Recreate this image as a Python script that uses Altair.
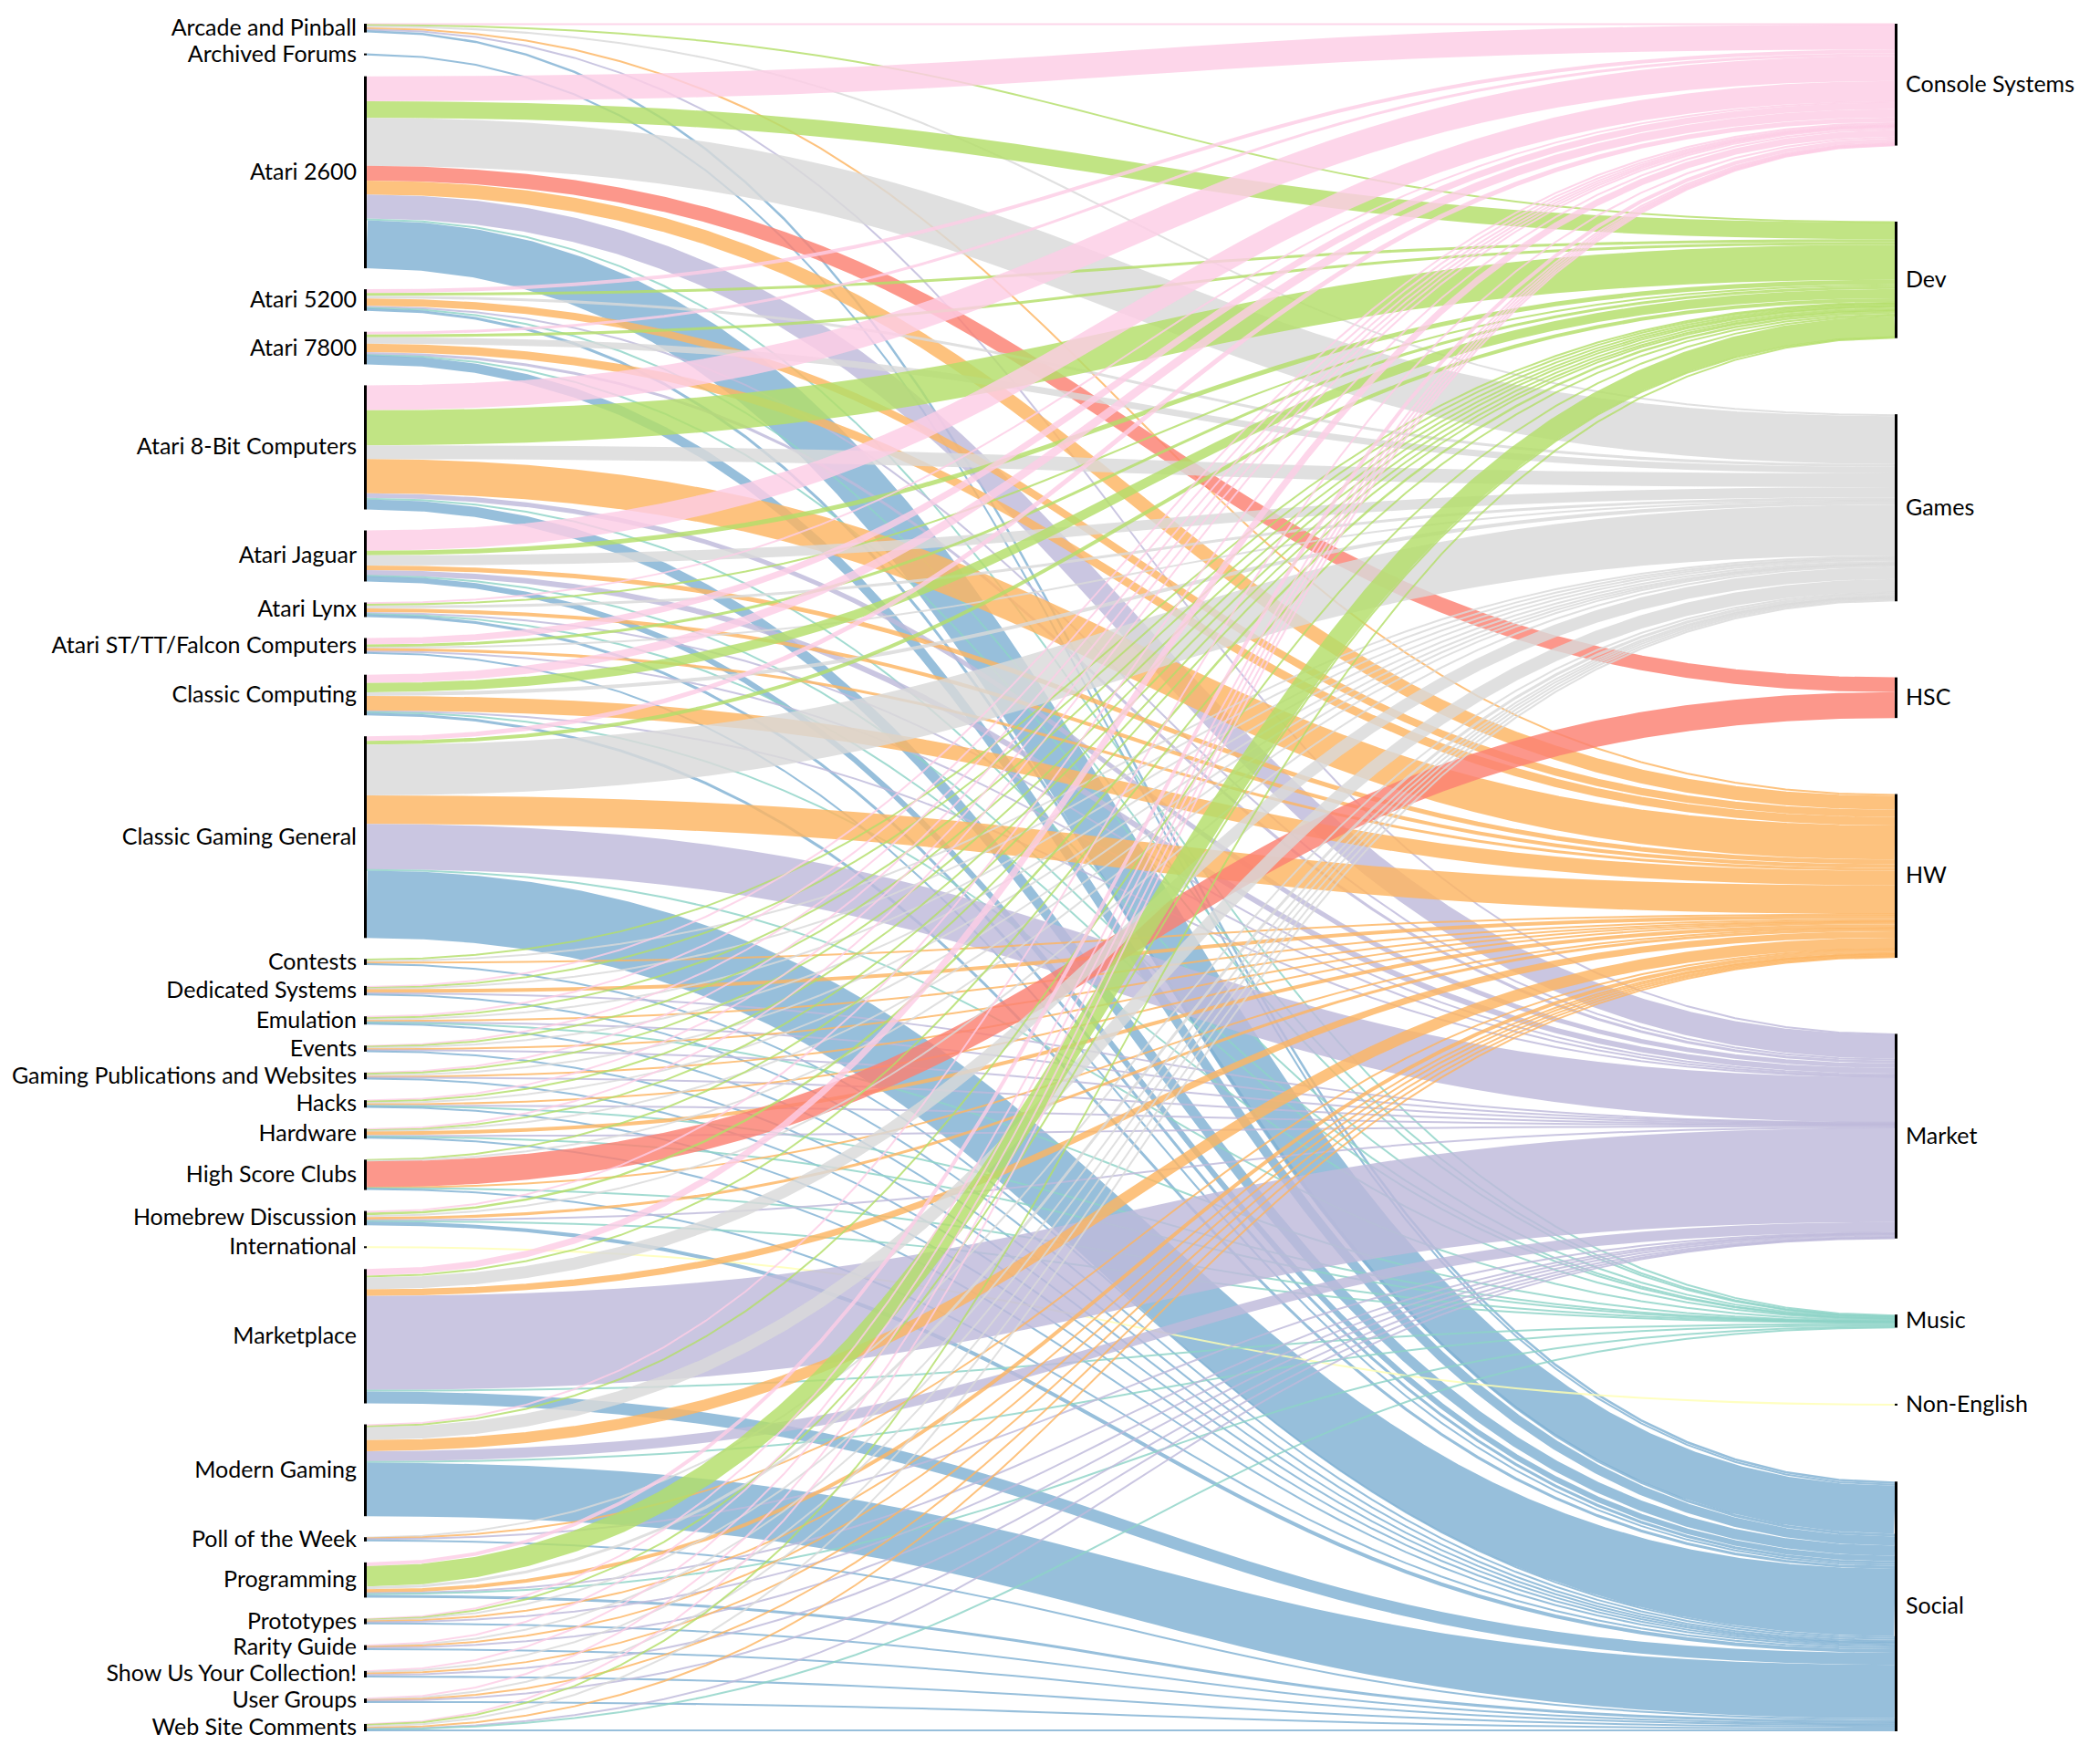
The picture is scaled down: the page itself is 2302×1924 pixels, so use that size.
import altair as alt
import numpy as np
import pandas as pd

sources = [
    "Arcade and Pinball", "Archived Forums", "Atari 2600", "Atari 5200", "Atari 7800",
    "Atari 8-Bit Computers", "Atari Jaguar", "Atari Lynx", "Atari ST/TT/Falcon Computers",
    "Classic Computing", "Classic Gaming General", "Contests", "Dedicated Systems",
    "Emulation", "Events", "Gaming Publications and Websites", "Hacks", "Hardware",
    "High Score Clubs", "Homebrew Discussion", "International", "Marketplace",
    "Modern Gaming", "Poll of the Week", "Programming", "Prototypes", "Rarity Guide",
    "Show Us Your Collection!", "User Groups", "Web Site Comments",
]
targets = ["Console Systems", "Dev", "Games", "HSC", "HW", "Market", "Music", "Non-English", "Social"]

# flow values from each source (same order as `sources`) into each target
console_systems = [1, 0, 27, 4, 3, 27, 22, 1.5, 7, 9, 5, 0, 2, 1, 1, 0.6, 0.6, 1.5, 0, 2, 0, 7, 2, 0, 4, 1, 1, 0.6, 0.6, 0.6]
dev             = [1, 0, 18, 3, 3, 38, 5, 2, 3, 10, 4, 1.5, 0.6, 2, 0.6, 1.5, 2, 1, 1, 2.5, 0, 2, 1, 0, 22, 0.6, 0, 0, 0, 1]
games           = [2, 0, 52, 3, 7, 15, 11, 3, 1, 4, 55, 2, 1, 1, 2, 2, 1, 0.6, 1, 2, 0, 13, 14, 1, 3, 1, 0.6, 1.5, 1, 2]
hsc             = [0, 0, 16, 0, 0, 0, 0, 0, 0, 0, 0, 0, 0, 0, 0, 0, 0, 0, 28, 0, 0, 0, 0, 0, 0, 0, 0, 0, 0, 0]
hw              = [2, 0, 15, 8, 9, 37, 5, 4, 3, 16, 31, 1, 4, 2, 1, 1, 2, 4, 0.6, 3, 0, 7, 12, 0.6, 4, 1, 0.6, 1.5, 0.6, 1.5]
market          = [1, 0, 26, 2, 3, 5, 6, 2, 1, 1, 49, 0, 0.6, 0.6, 1, 0.6, 0.6, 1.5, 0, 1, 0, 102, 11, 1, 0.6, 1, 1.5, 1.5, 0.6, 0.6]
music           = [0, 0, 2, 0.3, 0.3, 1.5, 0.3, 0.3, 0, 1, 1.5, 0, 0, 0.3, 0, 0, 0.3, 0.3, 0.3, 1, 0, 1.5, 1.5, 0, 1.5, 0, 0, 0, 0, 0.3]
non_english     = [0, 0, 0, 0, 0, 0, 0, 0, 0, 0, 0, 0, 0, 0, 0, 0, 0, 0, 0, 0, 2, 0, 0, 0, 0, 0, 0, 0, 0, 0]
social          = [2.5, 2, 52, 3, 10, 11, 6, 3, 2, 3, 73, 2, 2, 2, 1, 1.5, 1.5, 2, 2, 4, 0, 13, 58, 2, 3, 1.5, 1.5, 2, 2, 2]

colors = ["#fccde5", "#b3de69", "#d9d9d9", "#fb8072", "#fdb462", "#bebada", "#8dd3c7", "#ffffb3", "#80b1d3"]

# ---- layout (sankey-style, computed from the values) ----
W, H = 2286, 1908
TOP, BOTTOM = 18, 1890
LX0, LX1 = 391, 394
RX0, RX1 = 2069, 2072
PAD_L = 23
MIN_STROKE = 2.0

M = np.array([console_systems, dev, games, hsc, hw, market, music, non_english, social], dtype=float).T
ns, nt = M.shape
span = BOTTOM - TOP
V = M.sum()
ky = (span - (ns - 1) * PAD_L) / V
pad_r = (span - V * ky) / (nt - 1)

src_y0, y = [], TOP
for v in M.sum(1):
    src_y0.append(y)
    y += v * ky + PAD_L
tgt_y0, y = [], TOP
for v in M.sum(0):
    tgt_y0.append(y)
    y += v * ky + pad_r

ys = np.zeros_like(M)
for i in range(ns):
    off = src_y0[i]
    for j in range(nt):
        w = M[i, j] * ky
        ys[i, j] = off + w / 2
        off += w
yt = np.zeros_like(M)
for j in range(nt):
    off = tgt_y0[j]
    for i in range(ns):
        w = M[i, j] * ky
        yt[i, j] = off + w / 2
        off += w

ts = np.linspace(0, 1, 41)
xm = (LX1 + RX0) / 2
rows = []
for i in range(ns):
    for j in range(nt):
        if M[i, j] <= 0:
            continue
        a, b = ys[i, j], yt[i, j]
        for k, t in enumerate(ts):
            u = 1 - t
            x = u**3 * LX1 + 3 * u * u * t * xm + 3 * u * t * t * xm + t**3 * RX0
            yy = u**3 * a + 3 * u * u * t * a + 3 * u * t * t * b + t**3 * b
            rows.append({"link": f"{i}-{j}", "source": sources[i], "target": targets[j],
                         "x": x, "y": yy, "k": k, "w": max(M[i, j] * ky, MIN_STROKE)})
links_df = pd.DataFrame(rows)

nodes = []
for i, s in enumerate(sources):
    nodes.append({"name": s, "x0": LX0, "x1": LX1, "y0": src_y0[i], "y1": src_y0[i] + M[i].sum() * ky,
                  "lx": LX0 - 8, "side": "left"})
for j, t in enumerate(targets):
    nodes.append({"name": t, "x0": RX0, "x1": RX1, "y0": tgt_y0[j], "y1": tgt_y0[j] + M[:, j].sum() * ky,
                  "lx": RX1 + 9, "side": "right"})
nodes_df = pd.DataFrame(nodes)
nodes_df["ym"] = (nodes_df["y0"] + nodes_df["y1"]) / 2

xs = alt.Scale(domain=[0, W], nice=False, zero=False)
ysc = alt.Scale(domain=[0, H], nice=False, zero=False, reverse=True)

links = alt.Chart(links_df).mark_line(strokeOpacity=0.82, strokeCap="butt").encode(
    x=alt.X("x:Q", scale=xs, axis=None),
    y=alt.Y("y:Q", scale=ysc, axis=None),
    color=alt.Color("target:N", scale=alt.Scale(domain=targets, range=colors), legend=None),
    size=alt.Size("w:Q", scale=None, legend=None),
    detail="link:N",
    order="k:Q",
)

bars = alt.Chart(nodes_df).mark_rect(color="#000000").encode(
    x=alt.X("x0:Q", scale=xs, axis=None), x2="x1:Q",
    y=alt.Y("y0:Q", scale=ysc, axis=None), y2="y1:Q",
)

left_labels = alt.Chart(nodes_df[nodes_df.side == "left"]).mark_text(
    align="right", baseline="middle", font="Lato", fontSize=25, color="#000000"
).encode(x=alt.X("lx:Q", scale=xs, axis=None), y=alt.Y("ym:Q", scale=ysc, axis=None), text="name:N")

right_labels = alt.Chart(nodes_df[nodes_df.side == "right"]).mark_text(
    align="left", baseline="middle", font="Lato", fontSize=25, color="#000000"
).encode(x=alt.X("lx:Q", scale=xs, axis=None), y=alt.Y("ym:Q", scale=ysc, axis=None), text="name:N")

chart = alt.layer(links, bars, left_labels, right_labels).properties(
    width=W, height=H, padding=0, autosize="none"
).configure_view(stroke=None)

chart.save("out.html", embed_options={"renderer": "svg", "actions": False})
